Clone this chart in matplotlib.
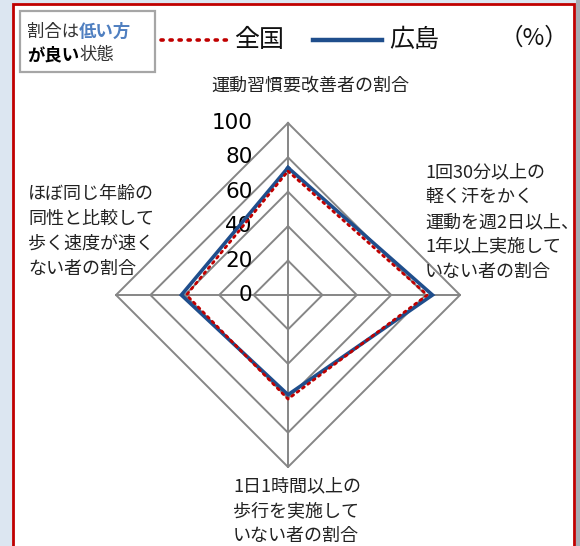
import numpy as np
import matplotlib
matplotlib.use("Agg")
import matplotlib.pyplot as plt
from matplotlib.patches import Rectangle
from matplotlib.lines import Line2D

plt.rcParams['font.family'] = ['Noto Sans CJK JP', 'DejaVu Sans']

# ---- data ----
categories = ["運動習慣要改善者の割合",
              "1回30分以上の\n軽く汗をかく\n運動を週2日以上、\n1年以上実施して\nいない者の割合",
              "1日1時間以上の\n歩行を実施して\nいない者の割合",
              "ほぼ同じ年齢の\n同性と比較して\n歩く速度が速く\nない者の割合"]
national = [72, 81, 60.5, 59]      # 全国
hiroshima = [74, 84, 58, 62]       # 広島
ticks = [0, 20, 40, 60, 80, 100]
series_names = ["全国", "広島"]

W, H = 580, 546
fig = plt.figure(figsize=(W / 100, H / 100), dpi=100, facecolor='#dce6f1')

def fx(px):
    return px / W

def fy(py):
    return (H - py) / H

# frame
fig.patches.append(Rectangle((fx(576), 0), 1 - fx(576), 1, transform=fig.transFigure,
                             facecolor='#a7acb3', edgecolor='none', zorder=0))
fig.patches.append(Rectangle((fx(13), -0.02), fx(574) - fx(13), fy(4) + 0.02,
                             transform=fig.transFigure, facecolor='white',
                             edgecolor='#c00000', lw=2.0, zorder=1))

# radar axes (Cartesian, equal scale)
cx, cy, R = 288, 295, 200
unit = 172 / 100.0
lim = R / unit
ax = fig.add_axes([fx(cx - R), fy(cy + R), 2 * R / W, 2 * R / H])
ax.set_xlim(-lim, lim)
ax.set_ylim(-lim, lim)
ax.axis('off')
ax.patch.set_alpha(0)
ax.set_zorder(2)

angles = np.deg2rad([90, 0, 270, 180])
ca, sa = np.cos(angles), np.sin(angles)

grid_c = '#868686'
for r in ticks[1:]:
    xs = np.append(r * ca, r * ca[0])
    ys = np.append(r * sa, r * sa[0])
    ax.plot(xs, ys, color=grid_c, lw=1.4, zorder=1)
for a_c, a_s in zip(ca, sa):
    ax.plot([0, 100 * a_c], [0, 100 * a_s], color=grid_c, lw=1.4, zorder=1)

for t in ticks:
    ax.text(-20.5, t, str(t), ha='right', va='center', fontsize=15.5,
            family=['DejaVu Sans'], color='black', zorder=3)

def closed(vals):
    v = np.asarray(vals, dtype=float)
    return np.append(v * ca, v[0] * ca[0]), np.append(v * sa, v[0] * sa[0])

x1, y1 = closed(national)
ax.plot(x1, y1, color='#c00000', lw=2.0, linestyle=(0, (0.8, 1.6)),
        dash_capstyle='round', zorder=5)
x2, y2 = closed(hiroshima)
ax.plot(x2, y2, color='#1f4e8c', lw=2.6, zorder=4, solid_joinstyle='miter')

# category labels
lab_kw = dict(fontsize=13, color='#222222', linespacing=1.5, zorder=5)
fig.text(fx(310), fy(85), categories[0], ha='center', va='center', **lab_kw)
fig.text(fx(425), fy(222), categories[1], ha='left', va='center', multialignment='left', **lab_kw)
fig.text(fx(233), fy(511), categories[2], ha='left', va='center', multialignment='left', **lab_kw)
fig.text(fx(28), fy(231), categories[3], ha='left', va='center', multialignment='left', **lab_kw)

# legend box
fig.patches.append(Rectangle((fx(20), fy(72)), fx(155) - fx(20), fy(11) - fy(72),
                             transform=fig.transFigure, facecolor='white',
                             edgecolor='#a6a6a6', lw=1.6, zorder=3))
fig.canvas.draw()
renderer = fig.canvas.get_renderer()

def seq_text(x_px, y_px, pieces):
    x = x_px
    for s, col, bold, ul in pieces:
        t = fig.text(fx(x), fy(y_px), s, ha='left', va='center', fontsize=12.5,
                     color=col, fontweight='bold' if bold else 'normal', zorder=6)
        bb = t.get_window_extent(renderer)
        if ul:
            yl = bb.y0 + 0.5
            fig.lines.append(Line2D([bb.x0 / W, bb.x1 / W], [yl / H, yl / H],
                                    transform=fig.transFigure, color=col, lw=1.2))
        x += bb.width

seq_text(27, 32, [("割合は", '#333333', False, False), ("低い方", '#4f7fc0', True, True)])
seq_text(27, 55, [("が良い", '#000000', True, True), ("状態", '#333333', False, False)])

# legend entries
fig.lines.append(Line2D([fx(161), fx(227)], [fy(40), fy(40)], transform=fig.transFigure,
                        color='#c00000', lw=2.6, linestyle=(0, (0.6, 1.9)),
                        dash_capstyle='round'))
fig.text(fx(234), fy(40), series_names[0], ha='left', va='center', fontsize=18, color='#111111')
fig.lines.append(Line2D([fx(313), fx(382)], [fy(40), fy(40)], transform=fig.transFigure,
                        color='#1f4e8c', lw=3.2))
fig.text(fx(389), fy(40), series_names[1], ha='left', va='center', fontsize=18, color='#111111')
fig.text(fx(568), fy(38), "（%）", ha='right', va='center', fontsize=17, color='#111111')

fig.savefig("out.png", dpi=100, facecolor=fig.get_facecolor())
